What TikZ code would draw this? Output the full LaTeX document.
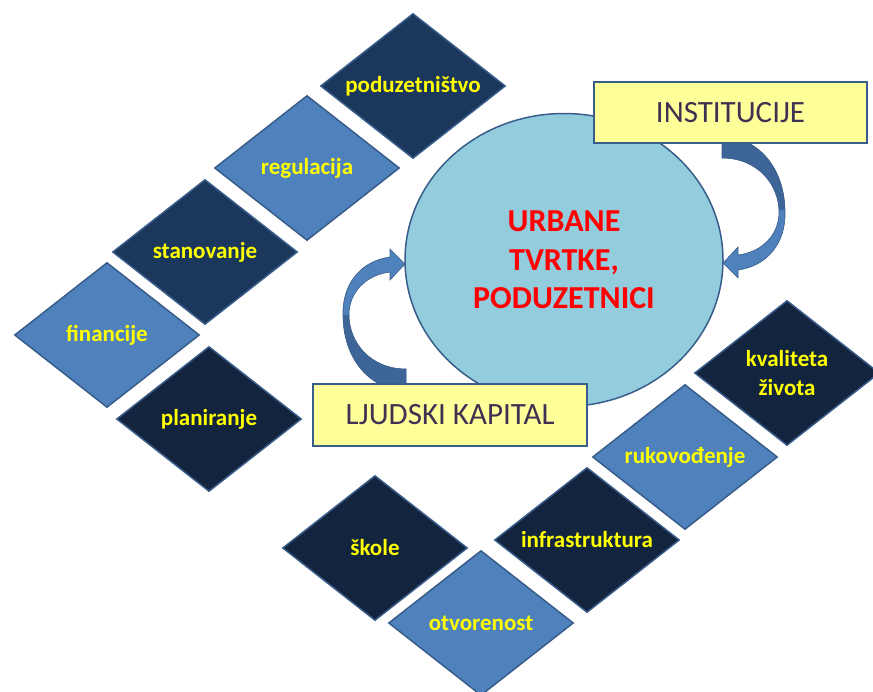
\documentclass[tikz,border=0pt]{standalone}
\usepackage{fontspec}
\setmainfont{Carlito}
\usetikzlibrary{shapes.geometric}
\definecolor{navyA}{HTML}{1B375C}
\definecolor{navyB}{HTML}{12243E}
\definecolor{steel}{HTML}{4F81BD}
\definecolor{edge}{HTML}{385D8A}
\definecolor{circfill}{HTML}{93CDDD}
\definecolor{boxfill}{HTML}{FFFF99}
\definecolor{boxtext}{HTML}{3F3151}
\definecolor{ribdark}{HTML}{3E6597}
\definecolor{riblight}{HTML}{4F81BD}
\definecolor{labyellow}{HTML}{FFFF00}
\tikzset{
  dia/.style={shape=diamond, aspect=1.27, draw=edge, line width=1.5pt,
    minimum width=185pt, minimum height=145pt, inner sep=0pt,
    text=labyellow, font=\fontsize{23}{29}\selectfont\bfseries, align=center},
  ybox/.style={draw=edge, fill=boxfill, line width=1.5pt, inner sep=0pt,
    minimum width=273pt, minimum height=61pt, text=boxtext,
    font=\fontsize{31}{36}\selectfont},
  core/.style={ellipse, draw=edge, fill=circfill, line width=1.5pt, inner sep=0pt,
    minimum width=318pt, minimum height=293pt, text=red, align=center,
    font=\fontsize{32}{38.5}\selectfont\bfseries},
  ribout/.style={draw=edge, line width=0.6pt}
}
\begin{document}
\begin{tikzpicture}[x=1pt, y=-1pt]
\useasboundingbox (0,0) rectangle (873,691);

% diamonds
\node[dia, fill=navyA] (pod) at (413,86) {poduzetništvo};
\node[dia, fill=steel] (reg) at (307,168) {regulacija};
\node[dia, fill=navyA] (stan) at (205,252) {stanovanje};
\node[dia, fill=steel] (fin) at (107,335) {financije};
\node[dia, fill=navyB] (plan) at (209,419) {planiranje};
\node[dia, fill=navyB] (kval) at (787,373) {kvaliteta\\života};
\node[dia, fill=steel] (ruk) at (685,457) {rukovođenje};
\node[dia, fill=navyB] (infra) at (587,540) {infrastruktura};
\node[dia, fill=navyB] (skole) at (375,548) {škole};
\node[dia, fill=steel] (otv) at (481,623) {otvorenost};

% central circle
\node[core] (c) at (564,260) {URBANE\\TVRTKE,\\PODUZETNICI};

% right curved arrow (INSTITUCIJE -> circle)
\begin{scope}
\clip (722,136) -- (722,158) .. controls (758,158) and (779,185) .. (779,212)
  .. controls (779,235) and (762,252) .. (738,255) -- (738,247) -- (723,263)
  -- (738,278) -- (738,270) .. controls (768,266) and (786,242) .. (785,212)
  .. controls (785,172) and (762,138) .. (722,136) -- cycle;
\fill[riblight] (700,120) rectangle (800,290);
\fill[ribdark] (700,120) rectangle (800,210);
\end{scope}
\draw[ribout] (722,136) -- (722,158) .. controls (758,158) and (779,185) .. (779,212)
  .. controls (779,235) and (762,252) .. (738,255) -- (738,247) -- (723,263)
  -- (738,278) -- (738,270) .. controls (768,266) and (786,242) .. (785,212)
  .. controls (785,172) and (762,138) .. (722,136) -- cycle;

% left curved arrow (LJUDSKI KAPITAL -> circle)
\begin{scope}
\clip (406,391) -- (406,369) .. controls (370,369) and (349,342) .. (349,315)
  .. controls (349,292) and (366,275) .. (390,272) -- (390,280) -- (405,264)
  -- (390,249) -- (390,257) .. controls (360,261) and (342,285) .. (343,315)
  .. controls (343,355) and (366,389) .. (406,391) -- cycle;
\fill[riblight] (320,240) rectangle (420,400);
\fill[ribdark] (320,315) rectangle (420,400);
\end{scope}
\draw[ribout] (406,391) -- (406,369) .. controls (370,369) and (349,342) .. (349,315)
  .. controls (349,292) and (366,275) .. (390,272) -- (390,280) -- (405,264)
  -- (390,249) -- (390,257) .. controls (360,261) and (342,285) .. (343,315)
  .. controls (343,355) and (366,389) .. (406,391) -- cycle;

% boxes
\node[ybox] (inst) at (730.5,112.5) {INSTITUCIJE};
\node[ybox, minimum width=274pt, minimum height=62pt] (ljud) at (450,415) {LJUDSKI KAPITAL};
\end{tikzpicture}
\end{document}
